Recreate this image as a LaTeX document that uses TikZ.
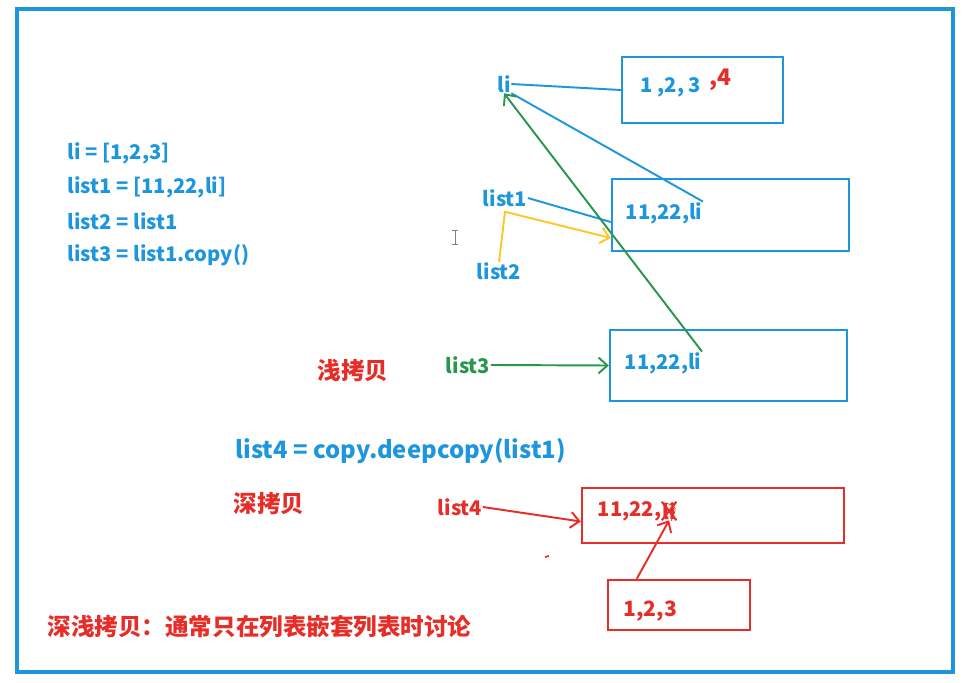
\documentclass[tikz,border=0pt]{standalone}
\usepackage{fontspec}
\setmainfont{Noto Sans CJK SC}
\usetikzlibrary{calc,arrows.meta}

\definecolor{pyblue}{RGB}{30,150,220}
\definecolor{pyred}{RGB}{230,45,40}
\definecolor{pygreen}{RGB}{40,150,75}
\definecolor{pyyellow}{RGB}{250,200,40}

\begin{document}
\begin{tikzpicture}[x=0.02cm, y=-0.02cm, thick,
  txt/.style={inner sep=0pt, font=\fontsize{11.5}{13}\selectfont\bfseries},
  code/.style={txt, text=pyblue},
  hanzi/.style={inner sep=0pt, font=\fontsize{13.4}{15}\selectfont\bfseries, text=pyred},
  bluebox/.style={draw=pyblue, line width=1.4pt, inner sep=0pt},
  redbox/.style={draw=pyred, line width=1.4pt, inner sep=0pt},
  link/.style={line width=1.1pt},
  barb/.style={-{Straight Barb[length=5pt,width=9pt]}}]
  \useasboundingbox (0,0) rectangle (968,683);
  \draw[pyblue, line width=2.2pt] (17,9) rectangle (953,672);

  % code on the left
  \node[code, anchor=west] (c1) at (67,153) {li = [1,2,3]};
  \node[code, anchor=west] (c2) at (67,187) {list1 = [11,22,li]};
  \node[code, anchor=west] (c3) at (67,221) {list2 = list1};
  \node[code, anchor=west] (c4) at (67,255) {list3 = list1.copy()};

  % the boxes
  \node[bluebox, minimum width=3.22cm, minimum height=1.32cm] (box1) at (702.5,90) {};
  \node[bluebox, minimum width=4.74cm, minimum height=1.44cm] (box2) at (730.5,215) {};
  \node[bluebox, minimum width=4.74cm, minimum height=1.42cm] (box3) at (728.5,365.5) {};
  \node[redbox, minimum width=5.24cm, minimum height=1.10cm] (box4) at (713,515.5) {};
  \node[redbox, minimum width=2.84cm, minimum height=1.00cm] (box5) at (679,605) {};

  % box contents
  \node[code, anchor=west] (t1) at (640,87) {1 ,2, 3};
  \node[txt, text=pyred, anchor=west, font=\fontsize{13}{15}\selectfont\bfseries] (t1r) at (709,80) {,4};
  \node[code, anchor=west] (t2) at (625,213) {11,22,li};
  \node[code, anchor=west] (t3) at (624,363) {11,22,li};
  \node[txt, text=pyred, anchor=west] (t4) at (597,511) {11,22,};
  \node[txt, text=pyred, anchor=west] (xli) at (t4.east) {li};
  \node[txt, text=pyred, anchor=west, font=\fontsize{12}{14}\selectfont\bfseries] (t5) at (623,611) {1,2,3};

  % names
  \node[code] (li) at (504,84) {li};
  \node[code] (l1) at (505,198) {list1};
  \node[code] (l2) at (499,271) {list2};
  \node[txt, text=pygreen] (l3) at (468,365) {list3};
  \node[txt, text=pyred] (l4) at (460,507) {list4};

  % labels
  \node[hanzi] (shallow) at (353,370) {浅拷贝};
  \node[code, anchor=west, font=\fontsize{13.6}{15}\selectfont\bfseries] (dcode) at (235,451) {list4 = copy.deepcopy(list1)};
  \node[hanzi] (deep) at (269,504) {深拷贝};
  \node[hanzi, anchor=west] (note) at (47,627) {深浅拷贝：通常只在列表嵌套列表时讨论};

  % references
  \draw[link, pyblue] (li.east) -- (box1.west);
  \draw[link, pyblue] (t2.north east) -- (li.south east);
  \draw[link, pyblue] (l1.east) -- ($(box2.west)+(0,7)$);
  \draw[link, pyyellow, barb] (l2.north) -- ++(6,-50) -- ($(box2.west)+(0,23)$);
  \draw[link, pygreen, barb] (t3.north east) -- (li.south);
  \draw[link, pygreen, barb] (l3.east) -- (box3.west);
  \draw[link, pyred, barb] (l4.east) -- ($(box4.west)+(0,6)$);
  \draw[link, pyred, barb] ($(box5.north west)+(30,0)$) -- (xli.south);

  % scribble over li
  \draw[pyred, line width=1.2pt] (xli.north west) -- (xli.south east)
    (xli.north east) -- (xli.south west);
  \draw[pyred, line width=0.4pt] ($(xli.center)+(-3,-8)$) .. controls ($(xli.center)+(8,-4)$) .. ($(xli.center)+(2,10)$);

  % stray marks
  \draw[pyred, line width=1pt] (545,557) -- (549,556);
  \draw[gray, line width=0.5pt] (455,230) -- (455,244) (452,230) -- (458,230) (452,244) -- (458,244);
\end{tikzpicture}
\end{document}
